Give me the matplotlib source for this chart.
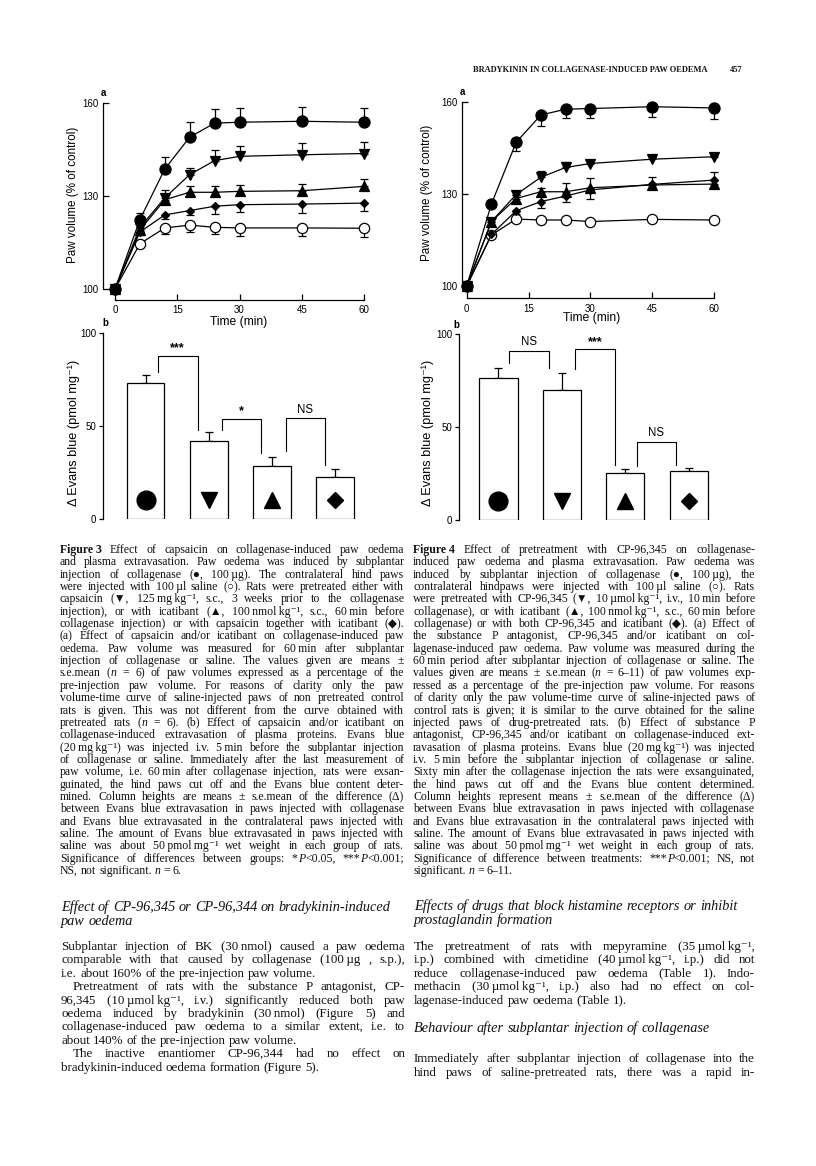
import re
import math
import matplotlib
matplotlib.use('Agg')
import matplotlib.pyplot as plt
from matplotlib import font_manager
from matplotlib.ft2font import FT2Font
from matplotlib.backends.backend_agg import get_hinting_flag
import numpy as np

# ------------------------------------------------------------------ data
time_min = [0, 6, 12, 18, 24, 30, 45, 60]

# Figure 3a  (values, lower error, upper error)
f3_collagenase = [100, 122.4, 138.7, 149.0, 153.5, 153.8, 154.1, 153.8]
f3_collagenase_lo = [0, 0, 0, 0, 0, 0, 0, 0]
f3_collagenase_hi = [0, 2.1, 4.0, 5.0, 4.6, 4.6, 4.6, 4.6]
f3_capsaicin = [100, 119.8, 129.4, 136.9, 141.4, 142.8, 143.3, 143.7]
f3_capsaicin_lo = [0, 0, 0, 0, 0, 0, 0, 0]
f3_capsaicin_hi = [0, 1.5, 2.4, 2.1, 3.3, 3.4, 3.8, 3.6]
f3_icatibant = [100, 119.0, 128.8, 131.2, 131.2, 131.5, 131.7, 133.1]
f3_icatibant_lo = [0, 0, 0, 0, 0, 0, 0, 0]
f3_icatibant_hi = [0, 1.5, 1.5, 1.9, 2.1, 2.2, 2.3, 2.4]
f3_both = [100, 118.4, 123.9, 125.3, 126.7, 127.2, 127.4, 127.7]
f3_both_lo = [0, 1.0, 1.2, 1.5, 2.5, 2.5, 3.0, 2.7]
f3_both_hi = [0, 0, 0, 0, 0, 0, 0, 0]
f3_saline = [100, 114.6, 119.7, 120.6, 119.9, 119.7, 119.7, 119.6]
f3_saline_lo = [0, 1.0, 1.9, 2.2, 2.2, 2.5, 2.7, 2.8]
f3_saline_hi = [0, 0, 0, 0, 0, 0, 0, 0]

# Figure 4a
f4_collagenase = [100, 126.7, 146.8, 155.7, 157.6, 157.8, 158.4, 158.0]
f4_collagenase_lo = [0, 1.0, 2.7, 3.5, 3.0, 3.2, 3.5, 3.6]
f4_collagenase_hi = [0, 0, 0, 0, 0, 0, 0, 0]
f4_cp = [100, 121.0, 129.8, 135.4, 138.6, 139.9, 141.3, 142.1]
f4_cp_lo = [0, 0, 0, 0, 0, 0, 0, 0]
f4_cp_hi = [0, 1.0, 1.2, 2.0, 1.9, 0.8, 0.6, 0.6]
f4_icatibant = [100, 121.0, 128.5, 130.7, 130.7, 132.0, 132.9, 133.2]
f4_icatibant_lo = [0, 0, 0, 0, 0, 0, 0, 1.2]
f4_icatibant_hi = [0, 0.8, 1.0, 1.2, 2.9, 3.3, 2.7, 0]
f4_both = [100, 116.8, 124.5, 127.5, 129.3, 131.3, 133.1, 134.5]
f4_both_lo = [0, 0.8, 1.2, 2.2, 2.0, 2.8, 1.5, 0]
f4_both_hi = [0, 0, 0, 0, 0, 0, 0, 2.5]
f4_saline = [100, 116.6, 121.8, 121.5, 121.5, 121.0, 121.7, 121.5]
f4_saline_lo = [0, 0, 0, 0, 0, 0, 0, 0]
f4_saline_hi = [0, 0, 0, 0, 0, 0, 0, 0]

# Figure 3b / 4b : Evans blue (pmol mg-1)
bar_groups = ['collagenase', 'capsaicin / CP-96,345', 'icatibant', 'both']
f3b_values = [73.3, 42.0, 28.7, 22.9]
f3b_err = [4.3, 4.9, 4.8, 4.3]
f4b_values = [76.2, 69.9, 25.1, 26.3]
f4b_err = [5.3, 9.3, 2.1, 1.5]

# significance brackets: (left x, left foot, right x, right foot, top, label)
f3b_brackets = [(0.19, 79.4, 0.83, 48.2, 88.0, '***'),
                (1.21, 48.2, 1.83, 35.7, 54.1, '*'),
                (2.22, 36.6, 2.84, 29.4, 54.3, 'NS')]
f4b_brackets = [(0.17, 84.6, 0.79, 81.5, 90.9, 'NS'),
                (1.20, 81.0, 1.84, 29.7, 91.8, '***'),
                (2.18, 29.2, 2.80, 29.7, 41.8, 'NS')]

# ------------------------------------------------------------------ text
header_text = 'BRADYKININ IN COLLAGENASE-INDUCED PAW OEDEMA'
page_number = '457'

NB = '\u00a0'
TH = '\u2009'
cap3_lines = [
    '~Figure' + NB + '3~ Effect of capsaicin on collagenase-induced paw oedema',
    'and plasma extravasation. Paw oedema was induced by subplantar',
    'injection of collagenase (●, 100' + TH + 'µg). The contralateral hind paws',
    'were injected with 100' + TH + 'µl saline (○). Rats were pretreated either with',
    'capsaicin (▼, 125' + TH + 'mg' + TH + 'kg⁻¹, s.c., 3 weeks prior to the collagenase',
    'injection), or with icatibant (▲, 100' + TH + 'nmol' + TH + 'kg⁻¹, s.c., 60' + TH + 'min before',
    'collagenase injection) or with capsaicin together with icatibant (◆).',
    '(a) Effect of capsaicin and/or icatibant on collagenase-induced paw',
    'oedema. Paw volume was measured for 60' + TH + 'min after subplantar',
    'injection of collagenase or saline. The values given are means ±',
    's.e.mean (_n_ = 6) of paw volumes expressed as a percentage of the',
    'pre-injection paw volume. For reasons of clarity only the paw',
    'volume-time curve of saline-injected paws of non pretreated control',
    'rats is given. This was not different from the curve obtained with',
    'pretreated rats (_n_ = 6). (b) Effect of capsaicin and/or icatibant on',
    'collagenase-induced extravasation of plasma proteins. Evans blue',
    '(20' + TH + 'mg' + TH + 'kg⁻¹) was injected i.v. 5' + TH + 'min before the subplantar injection',
    'of collagenase or saline. Immediately after the last measurement of',
    'paw volume, i.e. 60' + TH + 'min after collagenase injection, rats were exsan-',
    'guinated, the hind paws cut off and the Evans blue content deter-',
    'mined. Column heights are means ± s.e.mean of the difference (Δ)',
    'between Evans blue extravasation in paws injected with collagenase',
    'and Evans blue extravasated in the contralateral paws injected with',
    'saline. The amount of Evans blue extravasated in paws injected with',
    'saline was about 50' + TH + 'pmol' + TH + 'mg⁻¹ wet weight in each group of rats.',
    'Significance of differences between groups: *_P_<0.05, ***_P_<0.001;',
    'NS, not significant. _n_ = 6.|',
]
cap4_lines = [
    '~Figure' + NB + '4~ Effect of pretreatment with CP-96,345 on collagenase-',
    'induced paw oedema and plasma extravasation. Paw oedema was',
    'induced by subplantar injection of collagenase (●, 100' + TH + 'µg), the',
    'contralateral hindpaws were injected with 100' + TH + 'µl saline (○). Rats',
    'were pretreated with CP-96,345 (▼, 10' + TH + 'µmol' + TH + 'kg⁻¹, i.v., 10' + TH + 'min before',
    'collagenase), or with icatibant (▲, 100' + TH + 'nmol' + TH + 'kg⁻¹, s.c., 60' + TH + 'min before',
    'collagenase) or with both CP-96,345 and icatibant (◆). (a) Effect of',
    'the substance P antagonist, CP-96,345 and/or icatibant on col-',
    'lagenase-induced paw oedema. Paw volume was measured during the',
    '60' + TH + 'min period after subplantar injection of collagenase or saline. The',
    'values given are means ± s.e.mean (_n_ = 6–11) of paw volumes exp-',
    'ressed as a percentage of the pre-injection paw volume. For reasons',
    'of clarity only the paw volume-time curve of saline-injected paws of',
    'control rats is given; it is similar to the curve obtained for the saline',
    'injected paws of drug-pretreated rats. (b) Effect of substance P',
    'antagonist, CP-96,345 and/or icatibant on collagenase-induced ext-',
    'ravasation of plasma proteins. Evans blue (20' + TH + 'mg' + TH + 'kg⁻¹) was injected',
    'i.v. 5' + TH + 'min before the subplantar injection of collagenase or saline.',
    'Sixty min after the collagenase injection the rats were exsanguinated,',
    'the hind paws cut off and the Evans blue content determined.',
    'Column heights represent means ± s.e.mean of the difference (Δ)',
    'between Evans blue extravasation in paws injected with collagenase',
    'and Evans blue extravasation in the contralateral paws injected with',
    'saline. The amount of Evans blue extravasated in paws injected with',
    'saline was about 50' + TH + 'pmol' + TH + 'mg⁻¹ wet weight in each group of rats.',
    'Significance of difference between treatments: ***_P_<0.001; NS, not',
    'significant. _n_ = 6–11.|',
]
head_left = ['Effect of CP-96,345 or CP-96,344 on bradykinin-induced|', 'paw oedema|']
head_right = ['Effects of drugs that block histamine receptors or inhibit|',
              'prostaglandin formation|']
body_left = [
    'Subplantar injection of BK (30' + TH + 'nmol) caused a paw oedema',
    'comparable with that caused by collagenase (100' + TH + 'µg , s.p.),',
    'i.e. about 160% of the pre-injection paw volume.|',
    '>Pretreatment of rats with the substance P antagonist, CP-',
    '96,345 (10' + TH + 'µmol' + TH + 'kg⁻¹, i.v.) significantly reduced both paw',
    'oedema induced by bradykinin (30' + TH + 'nmol) (Figure 5) and',
    'collagenase-induced paw oedema to a similar extent, i.e. to',
    'about 140% of the pre-injection paw volume.|',
    '>The inactive enantiomer CP-96,344 had no effect on',
    'bradykinin-induced oedema formation (Figure 5).|',
]
body_right1 = [
    'The pretreatment of rats with mepyramine (35' + TH + 'µmol' + TH + 'kg⁻¹,',
    'i.p.) combined with cimetidine (40' + TH + 'µmol' + TH + 'kg⁻¹, i.p.) did not',
    'reduce collagenase-induced paw oedema (Table 1). Indo-',
    'methacin (30' + TH + 'µmol' + TH + 'kg⁻¹, i.p.) also had no effect on col-',
    'lagenase-induced paw oedema (Table 1).|',
]
head_right2 = ['Behaviour after subplantar injection of collagenase|']
body_right2 = [
    'Immediately after subplantar injection of collagenase into the',
    'hind paws of saline-pretreated rats, there was a rapid in-',
]

# ------------------------------------------------------------------ figure
W, H = 816, 1166
fig = plt.figure(figsize=(W / 100, H / 100), dpi=100)
fig.patch.set_facecolor('white')
SANS = ['Liberation Sans', 'DejaVu Sans']
SERIF_MAIN = 'Liberation Serif'
SERIF = ['Liberation Serif', 'DejaVu Sans']

_serif_ft = FT2Font(font_manager.findfont(SERIF_MAIN))


def serif_family(s):
    if all(_serif_ft.get_char_index(ord(c)) != 0 for c in s):
        return SERIF_MAIN
    return SERIF


bg = fig.add_axes([0, 0, 1, 1])
bg.set_xlim(0, W)
bg.set_ylim(H, 0)
bg.axis('off')
renderer = fig.canvas.get_renderer()


def snapped_baseline(t, target):
    """y (top-down px) so that the Agg raster lands the baseline on row `target`."""
    try:
        font = renderer._prepare_font(t.get_fontproperties())
        font.set_text(t.get_text(), 0, flags=get_hinting_flag())
        _, hh = font.get_width_height()
        dd = font.get_descent()
        A = (hh - dd) / 64.0
        D = dd / 64.0
        return target + math.floor(A + D) - math.floor(A) - D
    except Exception:
        return target


TOKEN_RE = re.compile(r'(_[^_]+_|~[^~]+~)')


def segs(word):
    out = []
    for part in TOKEN_RE.split(word):
        if not part:
            continue
        if len(part) > 2 and part[0] == '_' and part[-1] == '_':
            out.append((part[1:-1], 'italic', 'normal'))
        elif len(part) > 2 and part[0] == '~' and part[-1] == '~':
            out.append((part[1:-1], 'normal', 'bold'))
        else:
            out.append((part, 'normal', 'normal'))
    return out


def text_width(s, fs, **kw):
    t = bg.text(0, 0, s, fontsize=fs, **kw)
    w = t.get_window_extent(renderer).width
    t.remove()
    return w


def build_words(line, fs, style):
    items = []
    total = 0.0
    for w in line.split(' '):
        parts = []
        for s, st, wt in segs(w):
            if style == 'italic':
                st = 'italic'
            t = bg.text(0, 0, s, fontsize=fs, family=serif_family(s), style=st,
                        weight=wt, ha='left', va='baseline', color='#111111')
            wd = t.get_window_extent(renderer).width
            parts.append((t, wd))
            total += wd
        items.append(parts)
    return items, total


def draw_lines(lines, x0, x1, y_centers, fs, style='normal', base_off=2.5, indent=12):
    for line, yc in zip(lines, y_centers):
        last = line.endswith('|')
        if last:
            line = line[:-1]
        ind = 0
        if line.startswith('>'):
            line = line[1:]
            ind = indent
        avail = x1 - x0 - ind
        lfs = fs
        space_nat = 0.25 * lfs * 100 / 72
        items, total = build_words(line, lfs, style)
        n = len(items)
        min_gap = 0.55 * space_nat
        if n > 1 and total + (n - 1) * min_gap > avail:
            for parts in items:
                for t, _ in parts:
                    t.remove()
            lfs = fs * (avail - (n - 1) * min_gap) / total
            items, total = build_words(line, lfs, style)
        space_nat = 0.25 * lfs * 100 / 72
        gap = space_nat if (last or n == 1) else (avail - total) / (n - 1)
        x = x0 + ind
        target = round(yc + base_off)
        for parts in items:
            for t, wd in parts:
                t.set_position((x, snapped_baseline(t, target)))
                x += wd
            x += gap


# page header
fs_head = 10 * 234 / text_width(header_text, 10, family=SERIF_MAIN, weight='bold')
bg.text(473, 71.5, header_text, fontsize=fs_head, family=SERIF_MAIN, weight='bold',
        ha='left', va='baseline', color='#111111')
bg.text(730, 71.5, page_number, fontsize=fs_head, family=SERIF_MAIN, weight='bold',
        ha='left', va='baseline', color='#111111')

# captions
cap_fs = 8.5
cap_y = [550 + 12.35 * i for i in range(27)]
draw_lines(cap3_lines, 60, 404, cap_y, cap_fs, base_off=3)
draw_lines(cap4_lines, 413, 755, cap_y, cap_fs, base_off=3)

# headings
hd_fs = 10 * 331 / text_width(head_left[0][:-1], 10, family=SERIF_MAIN, style='italic')
draw_lines(head_left, 61, 404, [907.7, 921.2], hd_fs, style='italic', base_off=3.5)
draw_lines(head_right, 414, 755, [906.9, 920.7], hd_fs, style='italic', base_off=3.5)
draw_lines(head_right2, 414, 755, [1029], hd_fs, style='italic', base_off=3.5)

# body text
body_fs = 9.4
draw_lines(body_left, 61, 405, [946.7 + 13.4 * i for i in range(10)], body_fs, base_off=3.3)
draw_lines(body_right1, 414, 755, [946.7 + 13.45 * i for i in range(5)], body_fs, base_off=3.3)
draw_lines(body_right2, 414, 755, [1058.3, 1072.3], body_fs, base_off=3.3)


# ------------------------------------------------------------------ charts
def add_ax(l, t, r, b):
    ax = fig.add_axes([l / W, 1 - b / H, (r - l) / W, (b - t) / H])
    ax.set_facecolor('none')
    return ax


def line_chart(x0px, pxmin, y100px, pxunit, xlo, ylo, series):
    xhi, yhi = 62, 161
    ax = add_ax(x0px + xlo * pxmin, y100px - (yhi - 100) * pxunit,
                x0px + xhi * pxmin, y100px + (100 - ylo) * pxunit)
    ax.set_xlim(xlo, xhi)
    ax.set_ylim(ylo, yhi)
    for y, lo, hi, mk, ms, fc in series:
        ax.errorbar(time_min, y, yerr=[lo, hi], fmt='none', ecolor='k',
                    elinewidth=0.9, capsize=2.6, capthick=0.9, zorder=2, clip_on=False)
        ax.plot(time_min, y, color='k', lw=0.9, marker=mk, ms=ms, mfc=fc,
                mec='k', mew=0.9, zorder=3, clip_on=False)
    for s in ('top', 'right'):
        ax.spines[s].set_visible(False)
    ax.spines['left'].set_bounds(100, 160)
    ax.spines['bottom'].set_bounds(0, 60)
    for s in ('left', 'bottom'):
        ax.spines[s].set_linewidth(0.9)
    ax.set_yticks([100, 130, 160])
    ax.set_xticks([0, 15, 30, 45, 60])
    ax.tick_params(axis='y', direction='in', length=4, width=0.9, pad=3,
                   labelsize=7, labelfontfamily=SANS)
    ax.tick_params(axis='x', direction='in', length=4, width=0.9, pad=4,
                   labelsize=7, labelfontfamily=SANS)
    return ax


def fig_series(col, cap, ica, both, sal):
    return [
        (sal[0], sal[1], sal[2], 'o', 7.4, 'white'),
        (both[0], both[1], both[2], 'D', 4.4, 'k'),
        (ica[0], ica[1], ica[2], '^', 7.2, 'k'),
        (cap[0], cap[1], cap[2], 'v', 7.4, 'k'),
        (col[0], col[1], col[2], 'o', 8.0, 'k'),
    ]


line_chart(115, 4.15, 289, 3.1, -3, 96.5, fig_series(
    (f3_collagenase, f3_collagenase_lo, f3_collagenase_hi),
    (f3_capsaicin, f3_capsaicin_lo, f3_capsaicin_hi),
    (f3_icatibant, f3_icatibant_lo, f3_icatibant_hi),
    (f3_both, f3_both_lo, f3_both_hi),
    (f3_saline, f3_saline_lo, f3_saline_hi)))
line_chart(466.7, 4.12, 286, 3.07, -1.2, 96.1, fig_series(
    (f4_collagenase, f4_collagenase_lo, f4_collagenase_hi),
    (f4_cp, f4_cp_lo, f4_cp_hi),
    (f4_icatibant, f4_icatibant_lo, f4_icatibant_hi),
    (f4_both, f4_both_lo, f4_both_hi),
    (f4_saline, f4_saline_lo, f4_saline_hi)))

bar_markers = [('o', 13.5), ('v', 12.0), ('^', 12.0), ('D', 8.6)]


def bar_chart(c0px, pxcat, y0px, pxunit, xlo, values, err, brackets):
    xhi, yhi = 3.6, 102
    ax = add_ax(c0px + xlo * pxcat, y0px - yhi * pxunit, c0px + xhi * pxcat, y0px)
    ax.set_xlim(xlo, xhi)
    ax.set_ylim(0, yhi)
    x = np.arange(len(values))
    ax.bar(x, values, width=0.6, color='white', edgecolor='k', linewidth=0.9, zorder=2)
    ax.errorbar(x, values, yerr=[np.zeros(len(values)), err], fmt='none', ecolor='k',
                elinewidth=0.9, capsize=2.6, capthick=0.9, zorder=1)
    for xi, (mk, ms) in zip(x, bar_markers):
        ax.plot([xi], [10.4], marker=mk, ms=ms, color='k', zorder=3)
    for xl, yl, xr, yr, yt, lab in brackets:
        ax.plot([xl, xl, xr, xr], [yl, yt, yt, yr], color='k', lw=0.8, zorder=3)
        if lab.startswith('*'):
            ax.text((xl + xr) / 2, yt + 0.8, lab, ha='center', va='bottom',
                    fontsize=9, family=SANS, weight='bold')
        else:
            ax.text((xl + xr) / 2, yt + 1.5, lab, ha='center', va='bottom',
                    fontsize=8.3, family=SANS)
    for s in ('top', 'right', 'bottom'):
        ax.spines[s].set_visible(False)
    ax.spines['left'].set_bounds(0, 100)
    ax.spines['left'].set_linewidth(0.9)
    ax.set_xticks([])
    ax.set_yticks([0, 50, 100])
    ax.tick_params(axis='y', direction='out', length=3, width=0.9, pad=2,
                   labelsize=7, labelfontfamily=SANS)
    return ax


bar_chart(145.5, 63.2, 519.3, 1.86, -0.668, f3b_values, f3b_err, f3b_brackets)
bar_chart(498.5, 63.4, 520.0, 1.86, -0.623, f4b_values, f4b_err, f4b_brackets)

# axis labels and panel letters
lab_kw = dict(family=SANS, color='k', ha='center', va='center')
fs_paw = 10 * 137 / text_width('Paw volume (% of control)', 10, family=SANS)
fs_time = 10 * 58 / text_width('Time (min)', 10, family=SANS)
fs_evans = 10 * 147 / text_width('Δ Evans blue (pmol mg⁻¹)', 10, family=SANS)
bg.text(73.3, 195, 'Paw volume (% of control)', rotation=90, fontsize=fs_paw, **lab_kw)
bg.text(427.3, 193.3, 'Paw volume (% of control)', rotation=90, fontsize=fs_paw, **lab_kw)
bg.text(239, 321.7, 'Time (min)', fontsize=fs_time, **lab_kw)
bg.text(591.7, 318.3, 'Time (min)', fontsize=fs_time, **lab_kw)
bg.text(73.3, 433.3, 'Δ Evans blue (pmol mg⁻¹)', rotation=90, fontsize=fs_evans, **lab_kw)
bg.text(427.3, 433, 'Δ Evans blue (pmol mg⁻¹)', rotation=90, fontsize=fs_evans, **lab_kw)
for xx, yy, s in [(103.3, 93.3, 'a'), (462.7, 92.3, 'a'), (105, 323.3, 'b'), (456.7, 325, 'b')]:
    bg.text(xx, yy, s, fontsize=7, weight='bold', **lab_kw)

fig.savefig('out.png', dpi=100)
